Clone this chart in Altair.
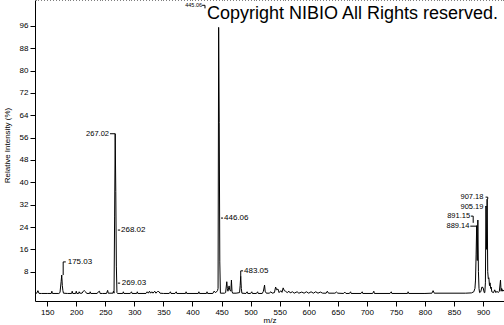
import altair as alt
import pandas as pd

# ---- profile spectrum (m/z, relative intensity %) ----
mz = [129, 132, 134, 136, 140, 150, 157, 158, 159, 170, 172, 173, 174, 175, 176, 177, 178,
      185, 192, 193, 194, 199, 200, 201, 204, 205, 206, 210, 212, 214, 216, 218, 223, 224, 225,
      236, 238, 240, 241, 245, 252, 254, 255, 263, 264, 265, 266, 267, 268, 269, 270, 271,
      280, 281, 282, 293, 295, 296, 304, 305, 306, 320, 322, 324, 326, 328, 330, 332, 335, 337,
      340, 342, 344, 350, 360, 362, 363, 370, 372, 373, 388, 389, 390, 410, 411, 412, 424, 425,
      426, 435, 437, 440, 443, 444, 445, 446, 447, 448, 455, 457, 459, 460, 461, 463, 464, 466,
      467, 468, 469, 475, 481, 482, 483, 484, 485, 492, 494, 495, 500, 502, 503, 510, 512, 513,
      520, 522, 524, 525, 527, 532, 535, 537, 541, 543, 545, 547, 549, 552, 554, 556, 558, 560,
      563, 566, 568, 572, 575, 580, 583, 588, 592, 596, 600, 604, 608, 612, 616, 620, 624, 630,
      632, 634, 645, 648, 650, 660, 662, 664, 670, 672, 673, 690, 692, 693, 710, 712, 713, 740,
      742, 743, 770, 771, 772, 800, 812, 814, 816, 870, 880, 884, 886, 887, 888, 889, 890, 891,
      892, 893, 894, 896, 898, 900, 902, 903, 904, 905, 906, 907, 908, 909, 910, 911, 912, 913,
      914, 915, 918, 920, 922, 924, 926, 928, 930, 931, 932, 934, 936]
intensity = [0.3, 0.3, 1.2, 0.2, 0.2, 0.2, 0.2, 1.0, 0.2, 0.2, 0.5, 2.5, 4.5, 6.8, 3.0, 1.2, 0.3,
             0.2, 0.2, 1.0, 0.2, 0.2, 1.0, 0.2, 0.2, 0.8, 0.3, 0.3, 1.0, 1.2, 0.8, 0.2, 0.2, 0.8, 0.2,
             0.2, 0.8, 1.0, 0.2, 0.2, 0.2, 1.3, 0.3, 0.3, 1.0, 0.3, 27.6, 57.4, 36.8, 10.0, 0.5, 0.2,
             0.2, 0.8, 0.2, 0.2, 0.8, 0.2, 0.2, 0.8, 0.2, 0.2, 0.8, 0.3, 1.0, 0.3, 0.8, 0.3, 1.0, 0.3,
             0.9, 0.9, 0.3, 0.2, 0.2, 0.8, 0.2, 0.2, 0.8, 0.2, 0.2, 0.8, 0.2, 0.2, 0.8, 0.2, 0.2, 0.8,
             0.2, 0.2, 1.0, 0.5, 1.2, 2.0, 95.5, 61.5, 11.5, 0.3, 0.3, 0.5, 4.4, 2.0, 1.0, 2.9, 1.5, 1.0,
             5.0, 1.0, 0.3, 0.3, 0.5, 3.0, 6.4, 2.0, 0.3, 0.2, 0.8, 0.2, 0.2, 0.8, 0.2, 0.2, 0.8, 0.2,
             0.2, 1.0, 3.2, 1.0, 0.3, 0.3, 0.8, 0.3, 0.5, 2.5, 1.5, 1.8, 0.5, 1.2, 0.6, 2.2, 1.2, 1.0,
             0.5, 1.0, 0.4, 0.8, 0.3, 0.8, 0.3, 0.7, 0.3, 0.8, 0.3, 0.8, 0.3, 0.8, 0.3, 0.7, 0.3, 0.3,
             1.0, 0.3, 0.3, 0.7, 0.3, 0.2, 0.7, 0.2, 0.2, 0.8, 0.2, 0.2, 0.8, 0.2, 0.2, 1.0, 0.2, 0.2,
             0.8, 0.2, 0.2, 0.8, 0.2, 0.2, 0.3, 1.2, 0.3, 0.3, 0.4, 0.8, 2.0, 5.0, 14.0, 24.5, 12.0, 26.5,
             8.0, 2.0, 0.5, 0.8, 2.5, 2.3, 0.5, 0.5, 4.0, 31.5, 16.0, 34.0, 8.0, 5.5, 5.8, 3.0, 4.0, 2.0,
             2.5, 0.8, 0.5, 1.5, 0.5, 1.0, 0.5, 1.0, 5.0, 1.0, 2.0, 1.0, 1.5]

# ---- peak annotations ----
label_text = ["175.03", "267.02", "268.02", "269.03", "446.06", "483.05",
              "907.18", "905.19", "891.15", "889.14"]
label_mz = [185.3, 256.4, 277.0, 278.2, 454.3, 488.7, 900.6, 900.6, 877.7, 876.5]
label_y = [11.5, 57.4, 22.9, 3.9, 27.2, 8.3, 34.7, 31.3, 27.9, 24.3]
label_align = ["left", "right", "left", "left", "left", "left",
               "right", "right", "right", "right"]

small_label = ["445.06"]
small_mz = [416.4]
small_y = [103.4]

# connector segments (m/z start, m/z end, intensity start, intensity end)
seg_x = [177.5, 177.5, 258, 271.5, 271.5, 416.5, 421.5, 449, 483, 483, 904.3, 908, 904.3, 879, 883, 878]
seg_x2 = [177.5, 182, 267, 275.5, 275.5, 421.5, 421.5, 452.5, 483, 487, 908, 908, 906, 883, 883, 889]
seg_y = [6.8, 11.5, 57.4, 22.9, 3.9, 103.4, 103.4, 27.2, 6.4, 8.3, 34.7, 34.7, 31.3, 27.9, 27.9, 24.3]
seg_y2 = [11.5, 11.5, 57.4, 22.9, 3.9, 103.4, 102.3, 27.2, 8.3, 8.3, 34.7, 34.0, 31.3, 27.9, 25.5, 24.3]

x_major = list(range(150, 901, 50))
x_minor = list(range(130, 937, 5))
y_major = list(range(8, 97, 8))
y_minor = list(range(0, 105, 2))

watermark = "Copyright NIBIO All Rights reserved."

spec_df = pd.DataFrame({"mz": mz, "intensity": intensity})
lab_df = pd.DataFrame({"text": label_text, "mz": label_mz, "y": label_y, "align": label_align})
small_df = pd.DataFrame({"text": small_label, "mz": small_mz, "y": small_y})
seg_df = pd.DataFrame({"x": seg_x, "x2": seg_x2, "y": seg_y, "y2": seg_y2})

XS = alt.Scale(domain=[129, 936], nice=False, zero=False)
YS = alt.Scale(domain=[-2.5, 105.3], nice=False, zero=False)
TICKFONT = "Liberation Sans Narrow, Liberation Sans, Arial"

x_axis_major = alt.Axis(values=x_major, tickSize=5, labelFontSize=8, labelFont=TICKFONT,
                        labelColor="#000000", tickColor="#000000", domainColor="#000000",
                        labelPadding=2, grid=False, title="m/z", titleFont=TICKFONT,
                        titleFontSize=8, titleFontWeight="normal", titleColor="#000000",
                        titleBaseline="middle", titleY=19, labelFlush=False)
y_axis_major = alt.Axis(values=y_major, tickSize=5, labelFontSize=8, labelFont=TICKFONT,
                        labelColor="#000000", tickColor="#000000", domainColor="#000000",
                        labelPadding=2, grid=False, title="Relative Intensity (%)",
                        titleFont=TICKFONT, titleFontSize=8, titleFontWeight="normal",
                        titleColor="#000000", titleAngle=-90, titleX=-28, titleY=145,
                        titleAlign="center", titleBaseline="middle", labelFlush=False)
x_axis_minor = alt.Axis(values=x_minor, tickSize=3, labels=False, domain=False, grid=False,
                        tickColor="#000000", title=None)
y_axis_minor = alt.Axis(values=y_minor, tickSize=3, labels=False, domain=False, grid=False,
                        tickColor="#000000", title=None)

line = alt.Chart(spec_df).mark_line(color="#000000", strokeWidth=1, clip=True).encode(
    x=alt.X("mz:Q", scale=XS, axis=x_axis_major),
    y=alt.Y("intensity:Q", scale=YS, axis=y_axis_major),
)

segs = alt.Chart(seg_df).mark_rule(color="#000000", strokeWidth=1).encode(
    x=alt.X("x:Q", scale=XS, axis=x_axis_minor),
    x2="x2:Q",
    y=alt.Y("y:Q", scale=YS, axis=y_axis_minor),
    y2="y2:Q",
)

lab_left = alt.Chart(lab_df).transform_filter(alt.datum.align == "left").mark_text(
    align="left", baseline="middle", fontSize=8, font="Liberation Sans", color="#000000"
).encode(
    x=alt.X("mz:Q", scale=XS, axis=None),
    y=alt.Y("y:Q", scale=YS, axis=None),
    text="text:N",
)
lab_right = alt.Chart(lab_df).transform_filter(alt.datum.align == "right").mark_text(
    align="right", baseline="middle", fontSize=7.5, font="Liberation Sans", color="#000000"
).encode(
    x=alt.X("mz:Q", scale=XS, axis=None),
    y=alt.Y("y:Q", scale=YS, axis=None),
    text="text:N",
)
lab_small = alt.Chart(small_df).mark_text(
    align="right", baseline="middle", fontSize=5.5, font="Liberation Sans", color="#000000"
).encode(
    x=alt.X("mz:Q", scale=XS, axis=None),
    y=alt.Y("y:Q", scale=YS, axis=None),
    text="text:N",
)

wm = alt.Chart(pd.DataFrame({"t": [watermark]})).mark_text(
    align="left", baseline="alphabetic", fontSize=18, font="Liberation Sans", color="#000000"
).encode(x=alt.value(172), y=alt.value(19), text="t:N")

chart = alt.layer(line, segs, lab_left, lab_right, lab_small, wm).resolve_axis(
    x="independent", y="independent"
).properties(
    width=469, height=301,
    autosize=alt.AutoSizeParams(type="none"),
    padding={"left": 35, "top": 0, "right": 0, "bottom": 24},
    background="#ffffff",
).configure_view(strokeWidth=0)

chart.save("out.html", embed_options={"renderer": "svg", "actions": False})
